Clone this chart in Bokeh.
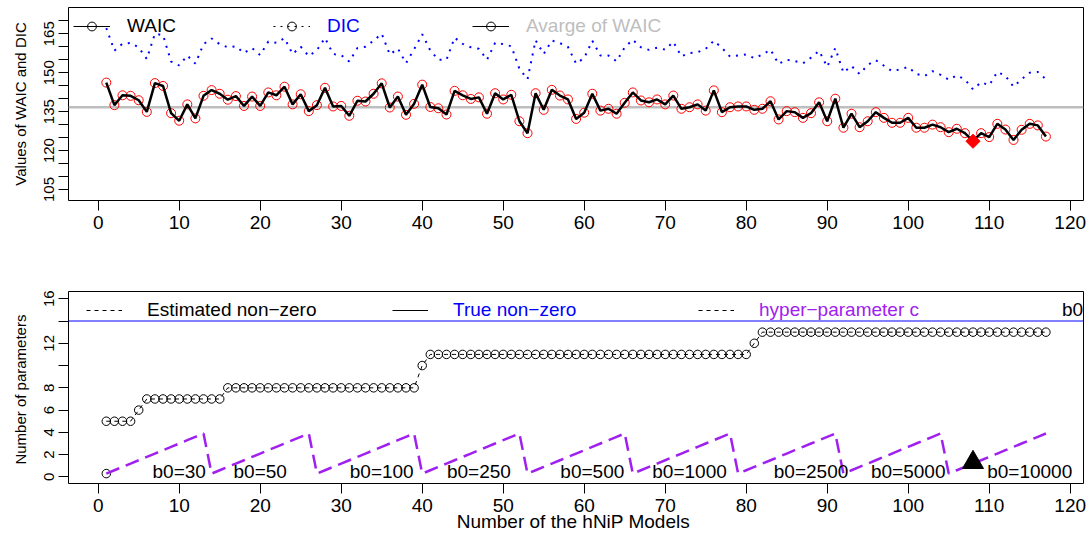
import numpy as np
from bokeh.plotting import figure
from bokeh.models import Range1d, FixedTicker, Span, Legend, LegendItem
from bokeh.layouts import column
from bokeh.embed import file_html
from bokeh.resources import INLINE
from bokeh.core.properties import value

FONT = "Liberation Sans"

# ---------------- data ----------------
models = list(range(1, 118))

waic = [
    146.2, 137.5, 141.3, 141.1, 139.4, 134.9, 146.0, 144.9, 134.4, 131.5,
    137.8, 132.4, 141.1, 143.3, 141.9, 139.6, 141.0, 137.2, 140.8, 137.2,
    142.4, 141.3, 144.6, 137.8, 141.7, 135.2, 137.5, 144.2, 137.0, 137.2,
    133.4, 139.2, 138.9, 141.9, 145.9, 136.6, 140.8, 133.8, 138.0, 145.4,
    136.8, 136.3, 133.9, 143.0, 141.3, 139.9, 140.5, 134.2, 142.1, 139.7,
    141.5, 131.3, 126.7, 142.1, 135.7, 143.4, 141.2, 139.7, 132.2, 134.6,
    141.9, 135.4, 136.1, 134.2, 138.4, 142.4, 139.3, 138.6, 139.7, 137.8,
    141.2, 136.1, 136.7, 137.8, 135.4, 143.2, 134.8, 136.7, 137.0, 137.0,
    135.7, 136.1, 139.0, 132.0, 135.2, 134.8, 132.6, 134.4, 138.6, 131.3,
    140.0, 128.8, 134.2, 129.0, 131.3, 134.8, 132.6, 130.7, 130.7, 132.6,
    128.8, 128.8, 130.0, 129.0, 127.1, 128.4, 126.7, 123.6, 126.7, 125.2,
    130.3, 128.1, 124.1, 128.0, 130.3, 129.7, 125.4]

dic = [
    167.2, 158.5, 161.2, 161.5, 159.7, 155.3, 165.0, 164.5, 154.3, 152.8,
    156.6, 153.5, 161.0, 163.2, 161.0, 159.8, 160.2, 157.6, 159.5, 156.8,
    162.0, 161.5, 163.3, 157.2, 160.0, 156.4, 158.7, 163.4, 157.2, 156.8,
    154.3, 159.5, 160.0, 162.4, 165.0, 157.0, 159.3, 153.7, 159.0, 164.8,
    158.6, 155.0, 155.0, 163.5, 161.1, 159.8, 159.2, 155.0, 161.5, 161.0,
    160.2, 151.5, 147.5, 162.5, 157.2, 162.4, 161.4, 159.9, 153.5, 155.7,
    162.3, 156.6, 156.6, 154.4, 159.8, 162.7, 159.8, 158.8, 159.6, 158.9,
    161.9, 156.3, 157.6, 157.9, 159.2, 162.3, 159.6, 156.2, 156.6, 157.0,
    155.6, 157.0, 158.9, 153.4, 155.0, 154.5, 153.6, 155.8, 158.4, 152.3,
    159.5, 150.0, 152.6, 149.5, 153.0, 154.8, 152.7, 150.6, 151.3, 152.2,
    149.5, 148.7, 150.6, 149.2, 147.3, 149.0, 147.4, 143.6, 146.3, 145.2,
    150.3, 148.8, 144.6, 147.5, 150.0, 150.3, 147.5]

avg_waic = 136.7
best_model = 108

est_nonzero = [5] * 4 + [6] + [7] * 10 + [8] * 24 + [10] + [11] * 40 + [12] + [13] * 36
true_nonzero = 14

b0_values = [30, 50, 100, 250, 500, 1000, 2500, 5000, 10000]
c_grid = [0.3, 0.6, 0.9, 1.2, 1.5, 1.8, 2.1, 2.4, 2.7, 3.0, 3.3, 3.6, 3.9]
hyper_c = [c for b in b0_values for c in c_grid]
b0_labels = ["b0=%d" % b for b in b0_values]
b0_label_x = [10, 20, 35, 47, 61, 73, 88, 100, 115]
b0_label_y = 0.45
best_marker_y = 1.3

x_ticks = list(range(0, 121, 10))
top_y_ticks = list(range(105, 171, 5))
top_y_labels = [105, 120, 135, 150, 165]
bot_y_ticks = list(range(0, 17, 2))
bot_y_labels = [0, 2, 4, 6, 8, 12, 16]

PURPLE = "#A020F0"
GRAY = "#BEBEBE"

W = 1089
X_RANGE = (-3.667, 121.64)
OFF = [-1000, -999]   # legend-only renderers sit outside the visible range


def style(p, yticks, ylabels, ytitle, xtitle=None):
    p.grid.visible = False
    p.outline_line_color = "black"
    p.outline_line_width = 1
    p.background_fill_color = "white"
    p.border_fill_color = "white"
    for ax in (p.xaxis[0], p.yaxis[0]):
        ax.axis_line_color = None
        ax.major_tick_in = 0
        ax.major_tick_out = 10
        ax.major_tick_line_color = "black"
        ax.minor_tick_line_color = None
        ax.major_label_text_font = FONT
        ax.major_label_text_color = "black"
        ax.axis_label_text_font = FONT
        ax.axis_label_text_font_style = "normal"
        ax.axis_label_text_color = "black"
    xa = p.xaxis[0]
    xa.ticker = FixedTicker(ticks=x_ticks)
    xa.major_label_text_font_size = "19px"
    xa.major_label_standoff = 5
    if xtitle:
        xa.axis_label = xtitle
        xa.axis_label_text_font_size = "19px"
        xa.axis_label_standoff = -4
    ya = p.yaxis[0]
    ya.ticker = FixedTicker(ticks=yticks)
    ya.major_label_overrides = {t: "" for t in yticks if t not in ylabels}
    ya.major_label_orientation = "vertical"
    ya.major_label_text_font_size = "15px"
    ya.major_label_standoff = 4
    ya.axis_label = ytitle
    ya.axis_label_text_font_size = "15px"
    ya.axis_label_standoff = 13


def add_legend(p, renderers, label, color, x_off, y_off, glyph_w, standoff):
    leg = Legend(items=[LegendItem(label=label, renderers=renderers)],
                 location=(x_off, y_off), orientation="horizontal",
                 padding=0, spacing=0, margin=0,
                 glyph_width=glyph_w, glyph_height=22, label_height=22,
                 label_standoff=standoff,
                 label_text_font=FONT, label_text_font_size="19px",
                 label_text_color=color, label_text_baseline="middle",
                 border_line_alpha=0, background_fill_alpha=0)
    p.add_layout(leg, "center")


# ---------------- top panel ----------------
p1 = figure(width=W, height=250, x_range=Range1d(*X_RANGE), y_range=Range1d(100.76, 175.13),
            toolbar_location=None, output_backend="svg",
            min_border_left=68, min_border_right=6, min_border_top=7, min_border_bottom=50)
style(p1, top_y_ticks, top_y_labels, "Values of WAIC and DIC")

p1.add_layout(Span(location=avg_waic, dimension="width", line_color=GRAY, line_width=2.5,
                   level="underlay"))
p1.line(models, dic, line_color="blue", line_width=2, line_dash="2 6")
p1.scatter(models, waic, marker="circle", size=9, fill_color=None, line_color="red", line_width=1)
p1.line(models, waic, line_color="black", line_width=2.5)
bi = models.index(best_model)
p1.scatter([best_model], [waic[bi]], marker="square", angle=np.pi / 4, size=10,
           fill_color="red", line_color="red")

# legend-only renderers (outside the visible range)
lw_line = p1.line(OFF, [150, 150], line_color="black", line_width=1)
lw_pt = p1.scatter(OFF[:1], [150], marker="circle", size=9, fill_color=None,
                   line_color="black", line_width=1)
ld_line = p1.line(OFF, [150, 150], line_color="black", line_width=1, line_dash="2 5")
add_legend(p1, [lw_line, lw_pt], "WAIC", "black", 5, 163, 37, 17)
add_legend(p1, [ld_line, lw_pt], "DIC", "blue", 205, 163, 37, 17)
add_legend(p1, [lw_line, lw_pt], "Avarge of WAIC", GRAY, 404, 163, 37, 17)

# ---------------- bottom panel ----------------
p2 = figure(width=W, height=286, x_range=Range1d(*X_RANGE), y_range=Range1d(-0.59, 16.65),
            toolbar_location=None, output_backend="svg",
            min_border_left=68, min_border_right=6, min_border_top=41, min_border_bottom=53)
style(p2, bot_y_ticks, bot_y_labels, "Number of  parameters", "Number of the hNiP  Models")

p2.add_layout(Span(location=true_nonzero, dimension="width", line_color="blue", line_width=1))
p2.scatter(models, est_nonzero, marker="circle", size=8.5, fill_color=None,
           line_color="black", line_width=1)
p2.line(models, est_nonzero, line_color="black", line_width=1, line_dash="4 4")
p2.scatter([models[0]], [hyper_c[0]], marker="circle", size=8.5, fill_color=None,
           line_color="black", line_width=1)
p2.line(models, hyper_c, line_color=PURPLE, line_width=2.5, line_dash="14 7")
p2.text(x=b0_label_x, y=[b0_label_y] * len(b0_labels), text=b0_labels,
        text_font=value(FONT), text_font_size="19px", text_align="center",
        text_baseline="middle", text_color="black")
p2.scatter([best_model], [best_marker_y], marker="triangle", size=21,
           fill_color="black", line_color="black")

le_line = p2.line(OFF, [5, 5], line_color="black", line_width=1, line_dash="4 4")
lt_line = p2.line(OFF, [5, 5], line_color="black", line_width=1)
lb_line = p2.line(OFF, [5, 5], line_color="black", line_alpha=0)
add_legend(p2, [le_line], "Estimated non\u2212zero", "black", 18, 162, 36, 25)
add_legend(p2, [lt_line], "True non\u2212zero", "blue", 324, 162, 36, 25)
add_legend(p2, [le_line], "hyper\u2212parameter c", PURPLE, 630, 162, 36, 25)
add_legend(p2, [lb_line], "b0", "black", 933, 162, 36, 25)

layout = column(p1, p2)
open("out.html", "w").write(file_html(layout, INLINE))
